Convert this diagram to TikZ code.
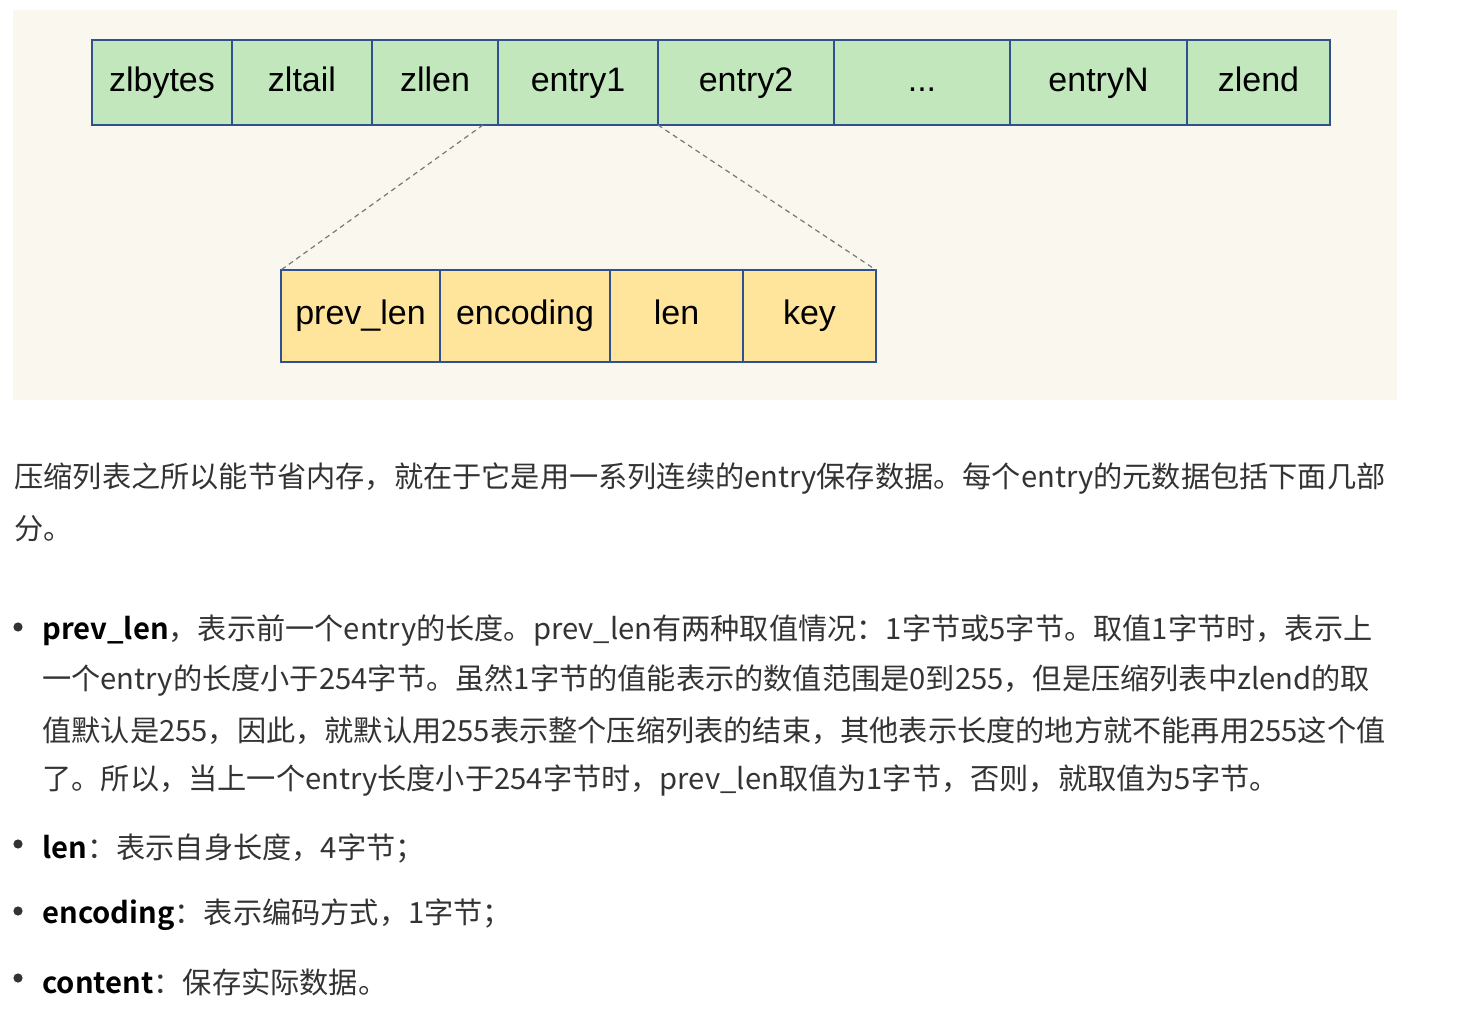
\documentclass[tikz,border=0pt]{standalone}
\usepackage{fontspec}
\setmainfont{Noto Sans CJK SC}[BoldFont={Noto Sans CJK SC Bold}]
\newfontfamily\boxfont{Liberation Sans}

\definecolor{panelbg}{HTML}{FAF8EE}
\definecolor{cellgreen}{HTML}{C2E7BD}
\definecolor{cellyellow}{HTML}{FFE59B}
\definecolor{cellborder}{HTML}{2F5190}
\definecolor{dashgray}{HTML}{777777}
\definecolor{bodytext}{HTML}{333333}

\tikzset{
  zlcell/.style={draw=cellborder, line width=1.3pt, fill=cellgreen,
    minimum height=42.5pt, inner sep=0pt, outer sep=0pt,
    text height=12.3pt, text depth=3.6pt, font=\boxfont\fontsize{17}{19}\selectfont},
  entrycell/.style={draw=cellborder, line width=0.75pt, fill=cellyellow,
    minimum height=46pt, inner sep=0pt, outer sep=0pt,
    text height=12.4pt, text depth=3.6pt, font=\boxfont\fontsize{17}{19}\selectfont},
  zoomline/.style={draw=dashgray, line width=0.6pt, dash pattern=on 2.5pt off 2pt},
  textline/.style={anchor=west, inner sep=0pt, text=bodytext, font=\fontsize{14.6}{17}\selectfont},
  bulletdot/.style={circle, fill=bodytext, inner sep=0pt, minimum size=4.6pt},
}

\begin{document}
\begin{tikzpicture}[x=0.5pt, y=-0.5pt]
        \useasboundingbox (0,0) rectangle (1466,1020);
        \fill[panelbg] (13,10) rectangle (1397,400);

        % ziplist layout
        \node[zlcell, minimum width=70pt] (zlbytes) at (162,82.5) {zlbytes};
        \node[zlcell, minimum width=70pt] (zltail) at (302,82.5) {zltail};
        \node[zlcell, minimum width=63pt] (zllen) at (435,82.5) {zllen};
        \node[zlcell, minimum width=80pt] (entry1) at (578,82.5) {entry1};
        \node[zlcell, minimum width=88pt] (entry2) at (746,82.5) {entry2};
        \node[zlcell, minimum width=88pt] (dots) at (922,82.5) {...};
        \node[zlcell, minimum width=88.5pt] (entryN) at (1098.5,82.5) {entryN};
        \node[zlcell, minimum width=71.5pt] (zlend) at (1258.5,82.5) {zlend};

        % entry layout
        \node[entrycell, minimum width=79.5pt] (prevlen) at (360.5,316) {prev\_len};
        \node[entrycell, minimum width=85pt] (encoding) at (525,316) {encoding};
        \node[entrycell, minimum width=66.5pt] (len) at (676.5,316) {len};
        \node[entrycell, minimum width=66.5pt] (key) at (809.5,316) {key};

        \coordinate (zllenfoot) at (483,125);
        \draw[zoomline] (zllenfoot) -- (prevlen.north west);
        \draw[zoomline] (entry1.south east) -- (key.north east);

        % text
        \node[textline] (intro1) at (14,479) {压缩列表之所以能节省内存，就在于它是用一系列连续的entry保存数据。每个entry的元数据包括下面几部};
        \node[textline] (intro2) at (14,529) {分。};

        \node[bulletdot] (dot1) at (18,627) {};
        \node[textline] (prev1) at (42,631) {\textbf{\color{black}prev\_len}，表示前一个entry的长度。prev\_len有两种取值情况：1字节或5字节。取值1字节时，表示上};
        \node[textline] (prev2) at (42,681) {一个entry的长度小于254字节。虽然1字节的值能表示的数值范围是0到255，但是压缩列表中zlend的取};
        \node[textline] (prev3) at (42,731) {值默认是255，因此，就默认用255表示整个压缩列表的结束，其他表示长度的地方就不能再用255这个值};
        \node[textline] (prev4) at (42,781) {了。所以，当上一个entry长度小于254字节时，prev\_len取值为1字节，否则，就取值为5字节。};

        \node[bulletdot] (dot2) at (18,844) {};
        \node[textline] (lentext) at (42,848) {\textbf{\color{black}len}：表示自身长度，4字节；};

        \node[bulletdot] (dot3) at (18,911) {};
        \node[textline] (enctext) at (42,915) {\textbf{\color{black}encoding}：表示编码方式，1字节；};

        \node[bulletdot] (dot4) at (18,978) {};
        \node[textline] (contenttext) at (42,982) {\textbf{\color{black}content}：保存实际数据。};
    \end{tikzpicture}
\end{document}
